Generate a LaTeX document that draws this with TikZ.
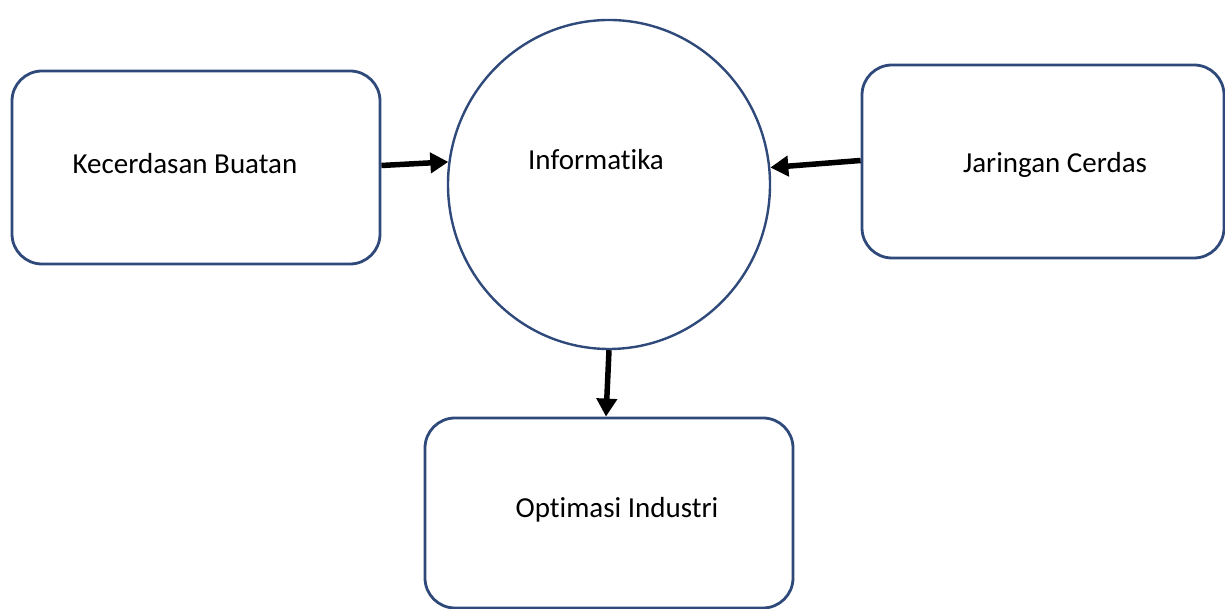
\documentclass[tikz,border=0pt]{standalone}
\usepackage{fontspec}
\setmainfont{Carlito}[Ligatures={NoCommon}]
\usetikzlibrary{shapes.geometric,arrows.meta}
\definecolor{boxblue}{RGB}{47,74,122}
\tikzset{
  rbox/.style={draw=boxblue, line width=2.8pt, rounded corners=30pt, fill=white, inner sep=0pt},
  circ/.style={draw=boxblue, line width=2.4pt, ellipse, fill=white, inner sep=0pt},
  txt/.style={font=\fontsize{29}{34}\selectfont},
  conn/.style={line width=5.5pt, -{Triangle[length=18pt,width=20pt]}}
}
\begin{document}
\begin{tikzpicture}[x=1pt,y=1pt]
\useasboundingbox (0,0) rectangle (1225,609);
\node[rbox, minimum width=368pt, minimum height=193pt] (kb) at (196,441.5) {};
\node[txt] (kbt) at (185,445) {Kecerdasan Buatan};
\node[rbox, minimum width=362pt, minimum height=193pt] (jc) at (1043,447.5) {};
\node[txt] (jct) at (1055,444) {Jaringan Cerdas};
\node[rbox, minimum width=368pt, minimum height=190pt] (oi) at (609,96) {};
\node[txt] (oit) at (617,99) {Optimasi Industri};
\node[circ, minimum width=322pt, minimum height=329pt] (inf) at (609,424.5) {};
\node[txt] (inft) at (596,449) {Informatika};
\draw[conn] ([yshift=2pt]kb.east) -- (inf.172);
\draw[conn] ([yshift=1pt]jc.west) -- (inf.6);
\draw[conn] (inf.south) -- ([xshift=-3pt]oi.north);
\end{tikzpicture}
\end{document}
